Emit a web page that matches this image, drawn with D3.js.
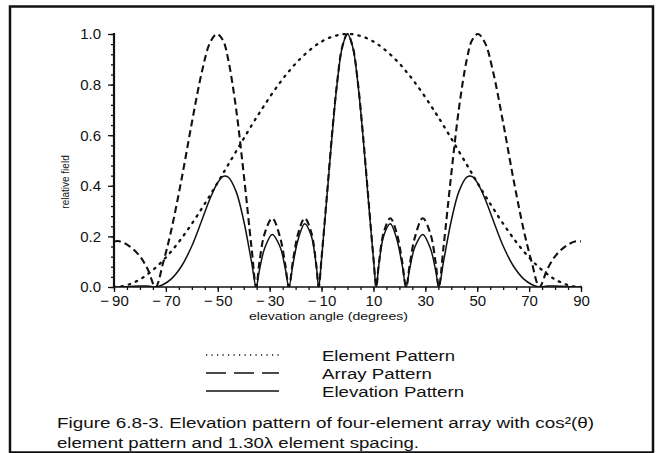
<!DOCTYPE html>
<html>
<head>
<meta charset="utf-8">
<script src="https://cdn.jsdelivr.net/npm/d3@7"></script>
<style>
  body { margin: 0; background: #fff; }
  svg { display: block; font-family: "Liberation Sans", Arial, sans-serif; fill: #111; }
</style>
</head>
<body>
<div id="chart"></div>
<script>
// elevation angle in degrees, shared by the three series
const angles = [-90, -88, -84, -80, -77, -74, -71, -68, -64, -60, -56, -53, -50.3, -48, -46, -43, -40, -37, -35.2, -34, -32, -29, -26, -24, -22.6, -21, -19, -16.5, -14, -12, -11.1, -10, -8, -6, -4, -2, 0, 2, 4, 6, 8, 10, 11.1, 12, 14, 16.5, 19, 21, 22.6, 24, 26, 29, 32, 34, 35.2, 37, 40, 43, 46, 48, 50.3, 53, 56, 60, 64, 68, 71, 74, 77, 80, 84, 88, 90]

const elementPattern = [0, 0.001, 0.011, 0.030, 0.051, 0.076, 0.106, 0.140, 0.192, 0.250, 0.313, 0.362, 0.408, 0.448, 0.483, 0.535, 0.587, 0.638, 0.668, 0.687, 0.719, 0.765, 0.808, 0.835, 0.852, 0.872, 0.894, 0.919, 0.941, 0.957, 0.963, 0.970, 0.981, 0.989, 0.995, 0.999, 1, 0.999, 0.995, 0.989, 0.981, 0.970, 0.963, 0.957, 0.941, 0.919, 0.894, 0.872, 0.852, 0.835, 0.808, 0.765, 0.719, 0.687, 0.668, 0.638, 0.587, 0.535, 0.483, 0.448, 0.408, 0.362, 0.313, 0.250, 0.192, 0.140, 0.106, 0.076, 0.051, 0.030, 0.011, 0.001, 0]

const arrayPattern = [0.180, 0.181, 0.161, 0.121, 0.070, 0, 0.098, 0.221, 0.424, 0.649, 0.856, 0.965, 1.0, 0.975, 0.900, 0.709, 0.446, 0.157, 0, 0.094, 0.209, 0.272, 0.197, 0.089, 0, 0.105, 0.212, 0.272, 0.217, 0.084, 0, 0.115, 0.355, 0.598, 0.808, 0.950, 1, 0.950, 0.808, 0.598, 0.355, 0.115, 0, 0.084, 0.217, 0.272, 0.212, 0.105, 0, 0.089, 0.197, 0.272, 0.209, 0.094, 0, 0.157, 0.446, 0.709, 0.900, 0.975, 1.0, 0.965, 0.856, 0.649, 0.424, 0.221, 0.098, 0, 0.070, 0.121, 0.161, 0.181, 0.180]

const elevationPattern = [0, 0, 0.002, 0.004, 0.004, 0, 0.010, 0.031, 0.082, 0.162, 0.268, 0.349, 0.408, 0.437, 0.434, 0.379, 0.262, 0.100, 0, 0.064, 0.151, 0.208, 0.159, 0.074, 0, 0.091, 0.189, 0.250, 0.204, 0.080, 0, 0.111, 0.348, 0.592, 0.804, 0.949, 1, 0.949, 0.804, 0.592, 0.348, 0.111, 0, 0.080, 0.204, 0.250, 0.189, 0.091, 0, 0.074, 0.159, 0.208, 0.151, 0.064, 0, 0.100, 0.262, 0.379, 0.434, 0.437, 0.408, 0.349, 0.268, 0.162, 0.082, 0.031, 0.010, 0, 0.004, 0.004, 0.002, 0, 0]

const xTickLabels = [-90, -70, -50, -30, -10, 10, 30, 50, 70, 90]
const yTickLabels = [0, 0.2, 0.4, 0.6, 0.8, 1.0]
const legendLabels = ['Element Pattern', 'Array Pattern', 'Elevation Pattern']
const captionLines = [
  'Figure 6.8-3. Elevation pattern of four-element array with cos\u00b2(\u03b8)',
  'element pattern and 1.30\u03bb element spacing.'
]

const dims = { width: 665, height: 453 }
const plot = { left: 114, right: 581, top: 34, bottom: 287 }

const lineStyles = [
  { dash: '1.5,6', width: 2.3, cap: 'round', legendDash: '1.2,4.3', legendWidth: 1.4 },
  { dash: '7,4', width: 2.1, cap: 'butt', legendDash: '20,8', legendWidth: 1.7 },
  { dash: null, width: 1.5, cap: 'butt', legendDash: null, legendWidth: 1.5 }
]

const svg = d3.select('#chart')
  .append('svg')
  .attr('width', dims.width)
  .attr('height', dims.height)

// frame round the figure
svg.append('rect')
  .attr('x', 10)
  .attr('y', 6.5)
  .attr('width', 643)
  .attr('height', 446)
  .attr('fill', 'none')
  .attr('stroke', '#111')
  .attr('stroke-width', 2.5)

const x = d3.scaleLinear().domain([-90, 90]).range([plot.left, plot.right])
const y = d3.scaleLinear().domain([0, 1]).range([plot.bottom, plot.top])

// y axis: minor ticks, then labelled ticks
svg.append('g')
  .attr('transform', `translate(${plot.left},0)`)
  .call(d3.axisLeft(y).tickValues(d3.range(0, 1.001, 0.04)).tickSize(3).tickFormat(''))
  .call(g => g.select('.domain').remove())

const yAxis = svg.append('g')
  .attr('transform', `translate(${plot.left},0)`)
  .call(d3.axisLeft(y).tickValues(yTickLabels).tickSize(6).tickPadding(7).tickFormat(d3.format('.1f')))
yAxis.select('.domain').remove()
yAxis.selectAll('text').attr('font-size', 15).attr('font-family', null).attr('fill', '#111')

svg.append('line')
  .attr('x1', plot.left).attr('x2', plot.left)
  .attr('y1', plot.top - 1).attr('y2', plot.bottom)
  .attr('stroke', '#111').attr('stroke-width', 2.2)

// x axis
svg.append('g')
  .attr('transform', `translate(0,${plot.bottom})`)
  .call(d3.axisBottom(x).tickValues(d3.range(-90, 91, 5)).tickSize(3).tickFormat(''))
  .call(g => g.select('.domain').remove())

const xAxis = svg.append('g')
  .attr('transform', `translate(0,${plot.bottom})`)
  .call(d3.axisBottom(x).tickValues(xTickLabels).tickSize(5).tickPadding(3)
    .tickFormat(d => d < 0 ? '\u2212\u2009' + Math.abs(d) : d))
xAxis.select('.domain').remove()
xAxis.selectAll('text').attr('font-size', 15).attr('font-family', null).attr('fill', '#111')
svg.selectAll('.tick line').attr('stroke', '#111').attr('stroke-width', 1.3)

svg.append('line')
  .attr('x1', plot.left).attr('x2', plot.right)
  .attr('y1', plot.bottom).attr('y2', plot.bottom)
  .attr('stroke', '#111').attr('stroke-width', 1.6)

// axis titles
svg.append('text')
  .attr('transform', 'translate(69,182) rotate(-90)')
  .attr('text-anchor', 'middle')
  .attr('font-size', 10)
  .text('relative field')

svg.append('text')
  .attr('x', 249)
  .attr('y', 320)
  .attr('font-size', 11)
  .attr('textLength', 159)
  .attr('lengthAdjust', 'spacingAndGlyphs')
  .text('elevation angle (degrees)')

// the three patterns
svg.append('clipPath').attr('id', 'plot-clip')
  .append('rect')
  .attr('x', plot.left).attr('y', plot.top - 5)
  .attr('width', plot.right - plot.left + 5).attr('height', plot.bottom - plot.top + 5)

const line = d3.line()
  .x(d => x(d[0]))
  .y(d => y(d[1]))
  .curve(d3.curveCatmullRom.alpha(0.5))

const series = [elementPattern, arrayPattern, elevationPattern]

svg.append('g')
  .attr('clip-path', 'url(#plot-clip)')
  .selectAll('path')
  .data(series)
  .enter()
  .append('path')
  .attr('d', values => line(angles.map((a, i) => [a, values[i]])))
  .attr('fill', 'none')
  .attr('stroke', '#111')
  .attr('stroke-width', (d, i) => lineStyles[i].width)
  .attr('stroke-dasharray', (d, i) => lineStyles[i].dash)
  .attr('stroke-linecap', (d, i) => lineStyles[i].cap)

// legend
const legend = svg.append('g')
const legendRowY = [355, 373, 391]
const legendTextLength = [133, 110, 142]

legend.selectAll('line')
  .data(legendLabels)
  .enter()
  .append('line')
  .attr('x1', 206).attr('x2', 279)
  .attr('y1', (d, i) => legendRowY[i]).attr('y2', (d, i) => legendRowY[i])
  .attr('stroke', '#111')
  .attr('stroke-width', (d, i) => lineStyles[i].legendWidth)
  .attr('stroke-dasharray', (d, i) => lineStyles[i].legendDash)

legend.selectAll('text')
  .data(legendLabels)
  .enter()
  .append('text')
  .attr('x', 322)
  .attr('y', (d, i) => legendRowY[i] + 5.5)
  .attr('font-size', 15.5)
  .attr('textLength', (d, i) => legendTextLength[i])
  .attr('lengthAdjust', 'spacingAndGlyphs')
  .text(d => d)

// caption
const captionLength = [537, 362]
svg.selectAll('.caption')
  .data(captionLines)
  .enter()
  .append('text')
  .classed('caption', true)
  .attr('x', 57)
  .attr('y', (d, i) => 428 + i * 20)
  .attr('font-size', 15.5)
  .attr('textLength', (d, i) => captionLength[i])
  .attr('lengthAdjust', 'spacingAndGlyphs')
  .text(d => d)
</script>
</body>
</html>
